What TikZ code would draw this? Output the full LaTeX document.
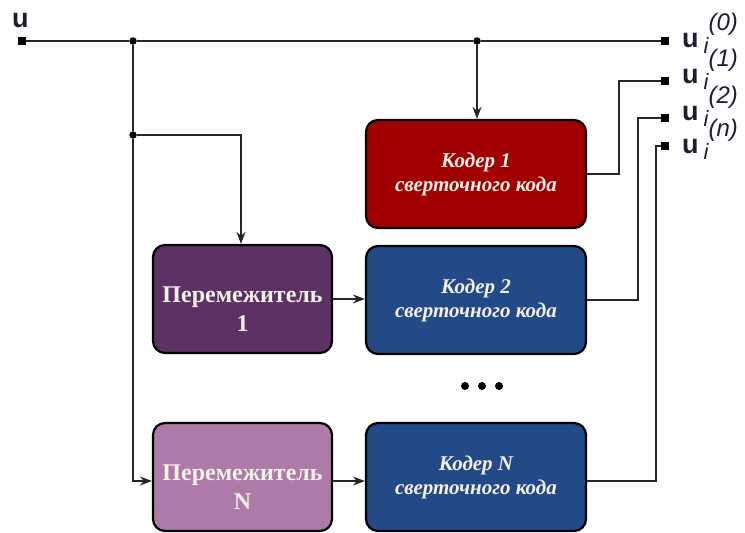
\documentclass[tikz,border=0pt]{standalone}
\usepackage{fontspec}
\setmainfont{Liberation Serif}
\newfontfamily\lblfont{Liberation Sans}
\usetikzlibrary{arrows.meta}
\definecolor{kred}{HTML}{A00000}
\definecolor{kblue}{HTML}{214A87}
\definecolor{ppurple}{HTML}{5C3264}
\definecolor{plight}{HTML}{AE7BA8}
\definecolor{txtlight}{HTML}{F2F0E6}
\definecolor{lbl}{HTML}{1E1E30}
\begin{document}
\begin{tikzpicture}[x=1pt,y=-1pt,
  blk/.style={draw=black,line width=2.2pt,rounded corners=12pt,inner sep=0pt,text=txtlight,align=center},
  coder/.style={blk,minimum width=220pt,minimum height=108pt,font=\fontsize{21}{24}\selectfont\bfseries\itshape},
  perm/.style={blk,minimum width=179pt,minimum height=108pt,font=\fontsize{24}{29}\selectfont\bfseries},
  wire/.style={line width=1.6pt,draw=black!85},
  arr/.style={wire,-{Stealth[length=12pt,width=9pt]}},
  term/.style={fill=black,minimum size=7.5pt,inner sep=0pt},
  jdot/.style={circle,fill=black,minimum size=7.5pt,inner sep=0pt},
  outlbl/.style={anchor=base west,text=lbl,inner sep=0pt,font=\lblfont},
]
\useasboundingbox (0,0) rectangle (745,533);
% boxes
\node[coder,fill=kred] (k1) at (476,174) {Кодер 1\\сверточного кода};
\node[coder,fill=kblue] (k2) at (476,300) {Кодер 2\\сверточного кода};
\node[coder,fill=kblue] (kn) at (476,477) {Кодер N\\сверточного кода};
\node[perm,fill=ppurple] (p1) at (242.5,299) {\rule{0pt}{36pt}Перемежитель\\1};
\node[perm,fill=plight] (pn) at (242.5,477) {\rule{0pt}{36pt}Перемежитель\\N};
% terminals
\node[term] (tin) at (22,41) {};
\node[term] (t0) at (665,41) {};
\node[term] (t1) at (665,81) {};
\node[term] (t2) at (665,118) {};
\node[term] (tn) at (665,146) {};
% junctions
\node[jdot] (j1) at (133,41) {};
\node[jdot] (j2) at (133,135) {};
\node[jdot] (j3) at (477,41) {};
\coordinate (c1) at (241,135);
\coordinate (a1) at (0,299);
\coordinate (an) at (0,481);
% labels
\node[outlbl,font=\lblfont\fontsize{27}{27}\selectfont\bfseries] (lu) at (12,27) {u};
\newcommand\ulbl[1]{{\fontsize{27}{27}\selectfont\bfseries u}\kern5pt\raisebox{-6pt}{\fontsize{22}{22}\selectfont\itshape i}\kern0pt\raisebox{17pt}{\fontsize{24}{24}\selectfont\itshape (#1)}}
\node[outlbl] (l0) at (682,47) {\ulbl{0}};
\node[outlbl] (l1) at (682,83) {\ulbl{1}};
\node[outlbl] (l2) at (682,120) {\ulbl{2}};
\node[outlbl] (ln) at (682,153) {\ulbl{n}};
% wires
\draw[wire] (tin) -- (j1) -- (j3) -- (t0);
\draw[wire] (j1) -- (j2);
\draw[arr] (j2) |- (pn.west |- an);
\draw[arr] (j2) -- (c1) -- (c1 |- p1.north);
\draw[arr] (j3) -- (j3 |- k1.north);
\draw[arr] (p1.east |- a1) -- (k2.west |- a1);
\draw[arr] (pn.east |- an) -- (kn.west |- an);
\draw[wire] (k1.east) -| (619,81) -- (t1);
\draw[wire] (k2.east) -| (638,118) -- (t2);
\draw[wire] (kn.east |- an) -| (656,146) -- (tn);
% ellipsis
\foreach \x in {465,482,499} \fill (\x,386) circle (4pt);
\end{tikzpicture}
\end{document}
